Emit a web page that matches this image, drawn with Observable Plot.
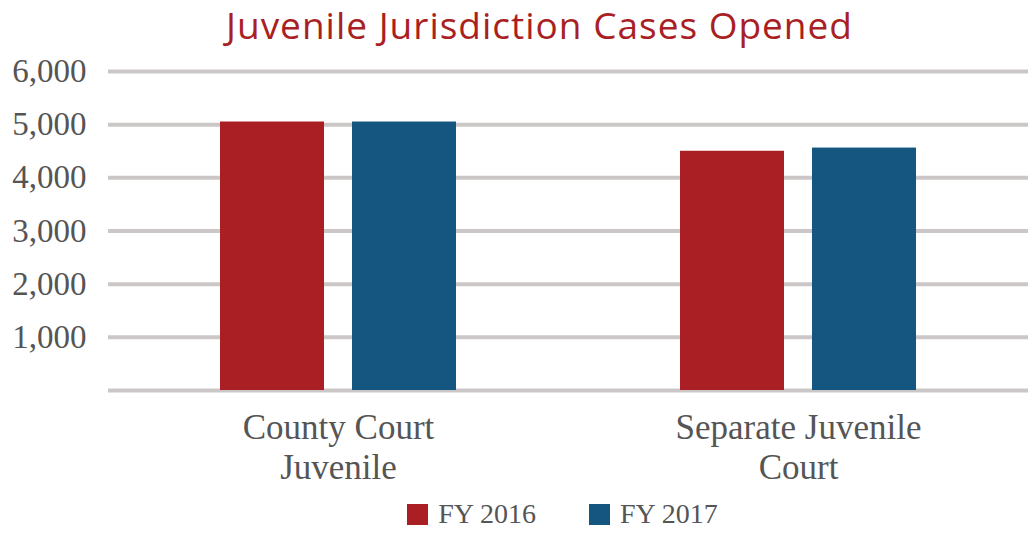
<!DOCTYPE html>
<html>
<head>
<meta charset="utf-8">
<script src="https://cdn.jsdelivr.net/npm/d3@7"></script>
<script src="https://cdn.jsdelivr.net/npm/@observablehq/plot@0.6"></script>
<style>
  html, body { margin: 0; padding: 0; background: #fff; }
  #wrap { width: 1033px; }
  #title { height: 50px; text-align: center; font-family: "Open Sans", sans-serif; font-size: 37px; font-weight: 500; letter-spacing: 1px; color: #a91f24; line-height: 50px; padding-left: 46px; box-sizing: border-box; width: 1033px; }
  #legend { height: 38px; display: flex; justify-content: center; align-items: center; gap: 53px; font-family: "Liberation Serif", serif; font-size: 28px; color: #555; padding-left: 92px; box-sizing: border-box; width: 1033px; }
  .item { display: flex; align-items: center; gap: 10px; }
  .sw { width: 21px; height: 21px; display: inline-block; }
</style>
</head>
<body>
<div id="wrap">
  <div id="title">Juvenile Jurisdiction Cases Opened</div>
  <div id="chart"></div>
  <div id="legend"></div>
</div>
<script>
const categories = ["County Court\nJuvenile", "Separate Juvenile\nCourt"];
const years = ["FY 2016", "FY 2017"];
const fy2016 = [5050, 4500];
const fy2017 = [5050, 4560];
const colors = ["#a91f24", "#14567f"];
const yTicks = [0, 1000, 2000, 3000, 4000, 5000, 6000];

const data = [];
categories.forEach((c, i) => {
  data.push({category: c, year: years[0], value: fy2016[i]});
  data.push({category: c, year: years[1], value: fy2017[i]});
});

const chart = Plot.plot({
  width: 1033,
  height: 445,
  marginLeft: 107,
  marginRight: 5,
  marginTop: 21,
  marginBottom: 105,
  style: {fontFamily: "'Liberation Serif', serif", color: "#555", background: "#fff"},
  fx: {domain: categories, padding: 0, label: null},
  x: {domain: years, paddingInner: 0.21, paddingOuter: 0.835, axis: null},
  y: {domain: [0, 6000], ticks: yTicks, label: null},
  color: {domain: years, range: colors},
  marks: [
    Plot.ruleY(yTicks, {stroke: "#cbc7c7", strokeWidth: 4}),
    Plot.barY(data, {fx: "category", x: "year", y: "value", fill: "year"}),
    Plot.axisY({ticks: yTicks.filter(d => d > 0), tickSize: 0, tickPadding: 22, fontSize: 33, fill: "#555", tickFormat: d3.format(","), label: null}),
    Plot.axisFx({anchor: "bottom", tickSize: 0, tickPadding: 20, fontSize: 35, fill: "#555", lineHeight: 1.15, label: null})
  ]
});
document.getElementById("chart").appendChild(chart);

const legend = document.getElementById("legend");
years.forEach((y, i) => {
  const it = document.createElement("div");
  it.className = "item";
  const sw = document.createElement("span");
  sw.className = "sw";
  sw.style.background = colors[i];
  const t = document.createElement("span");
  t.textContent = y;
  it.appendChild(sw); it.appendChild(t);
  legend.appendChild(it);
});
</script>
</body>
</html>
